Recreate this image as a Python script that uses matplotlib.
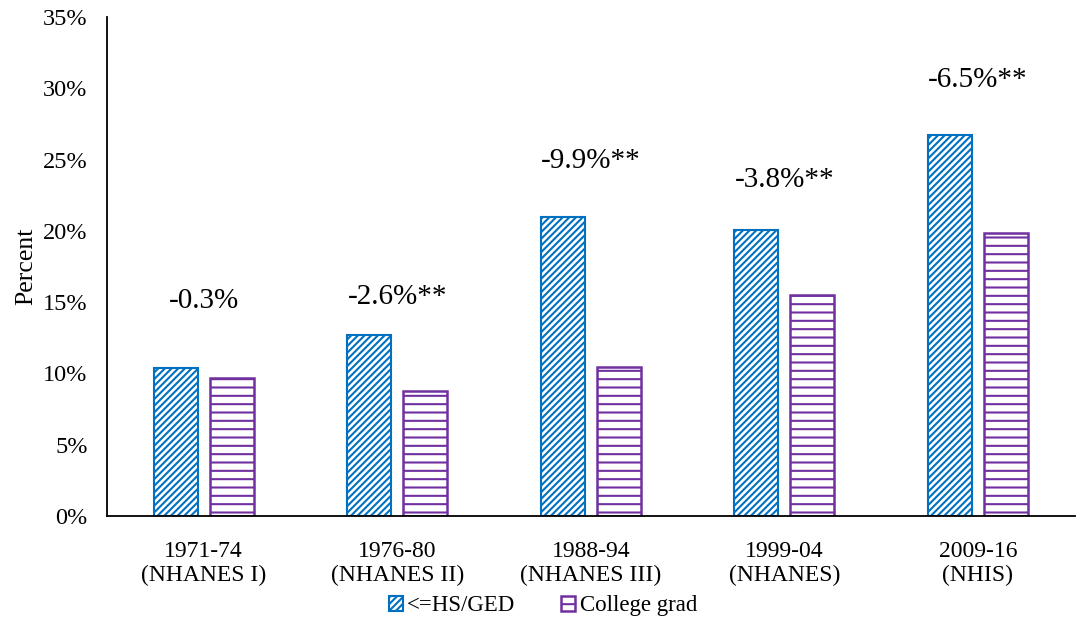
import numpy as np
import matplotlib.pyplot as plt

plt.rcParams['font.family'] = ['Liberation Serif', 'DejaVu Serif']
plt.rcParams['hatch.linewidth'] = 1.5

periodos = ['1971-74\n(NHANES I)', '1976-80\n(NHANES II)', '1988-94\n(NHANES III)',
            '1999-04\n(NHANES)', '2009-16\n(NHIS)']
hs_ged = [10.4, 12.7, 21.0, 20.1, 26.7]
college = [9.7, 8.8, 10.45, 15.5, 19.85]
diferencas = ['-0.3%', '-2.6%**', '-9.9%**', '-3.8%**', '-6.5%**']
pos_rotulo = [15.1, 15.4, 24.9, 23.6, 30.6]

azul = '#0070C0'
roxo = '#7030A0'

fig = plt.figure(figsize=(10.86, 6.37), dpi=100)
ax = fig.add_axes([0.0985, 0.19, 0.891, 0.783])

x = np.arange(len(periodos))
w = 0.227
ax.bar(x - 0.144, hs_ged, w, facecolor='white', edgecolor=azul, hatch='/////',
       linewidth=1.5, label='<=HS/GED')
ax.bar(x + 0.144, college, w, facecolor='white', edgecolor=roxo, hatch='--',
       linewidth=1.8, label='College grad')

for i, t in enumerate(diferencas):
    ax.text(x[i], pos_rotulo[i], t, ha='center', va='center', fontsize=21)

ax.set_xlim(-0.5, 4.5)
ax.set_ylim(0, 35)
ax.set_yticks(range(0, 36, 5))
ax.set_yticklabels([f'{v}%' for v in range(0, 36, 5)], fontsize=17.5)
ax.set_xticks(x)
ax.set_xticklabels(periodos, fontsize=17, linespacing=1.15)
ax.tick_params(axis='y', length=0, pad=14)
ax.tick_params(axis='x', length=0, pad=18)
ax.set_ylabel('Percent', fontsize=18.5, labelpad=4)

for s in ('top', 'right'):
    ax.spines[s].set_visible(False)
ax.spines['left'].set_linewidth(1.3)
ax.spines['bottom'].set_linewidth(1.3)

fig.legend(loc='lower center', bbox_to_anchor=(0.5, 0.0), ncol=2, frameon=False,
           fontsize=16.5, handlelength=0.6, handleheight=0.6, handletextpad=0.2,
           columnspacing=2.0)

fig.savefig('out.png', dpi=100)
